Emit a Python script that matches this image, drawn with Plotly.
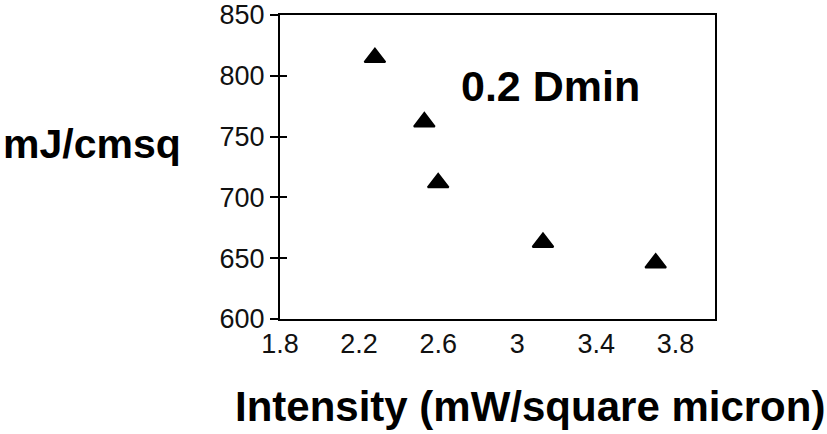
import plotly.graph_objects as go

# Data
intensity = [2.28, 2.53, 2.60, 3.13, 3.70]
energy = [815, 762, 712, 663, 646]

x_ticks = [1.8, 2.2, 2.6, 3.0, 3.4, 3.8]
x_tick_text = ["1.8", "2.2", "2.6", "3", "3.4", "3.8"]
y_ticks = [600, 650, 700, 750, 800, 850]

label_text = "0.2 Dmin"
y_title = "mJ/cmsq"
x_title = "Intensity (mW/square micron)"

FONT = "Liberation Sans, Arial, Helvetica, sans-serif"

fig = go.Figure()
fig.add_trace(go.Scatter(
    x=intensity, y=energy, mode="markers",
    marker=dict(symbol="triangle-up", size=18, color="black",
                line=dict(color="black", width=2)),
    showlegend=False,
))
# invisible trace for the overlay axis (inside ticks)
fig.add_trace(go.Scatter(x=[intensity[0]], y=[energy[0]], yaxis="y2",
                         mode="markers", marker=dict(opacity=0),
                         showlegend=False, hoverinfo="skip"))

fig.update_layout(
    width=827, height=434,
    margin=dict(l=280, r=112, t=15, b=115, autoexpand=False),
    paper_bgcolor="white", plot_bgcolor="white",
    font=dict(family=FONT, color="#111"),
    xaxis=dict(range=[1.8, 4.0], tickvals=x_ticks, ticktext=x_tick_text,
               ticks="",
               showgrid=False, zeroline=False, automargin=False,
               showline=True, linecolor="black", linewidth=2, mirror=True,
               tickfont=dict(size=27, family=FONT, color="#111")),
    yaxis=dict(range=[600, 850], tickvals=y_ticks,
               ticks="outside", ticklen=8, tickwidth=1.5, tickcolor="black",
               showgrid=False, zeroline=False, automargin=False,
               showline=True, linecolor="black", linewidth=2, mirror=True,
               tickfont=dict(size=27, family=FONT, color="#111")),
    yaxis2=dict(range=[600, 850], tickvals=y_ticks, overlaying="y",
                side="left", ticks="inside", ticklen=7, tickwidth=1.5,
                tickcolor="black", showticklabels=False, showgrid=False,
                zeroline=False, showline=False, automargin=False),
)

fig.add_annotation(x=3.17, y=792, xref="x", yref="y",
                   text="<b>%s</b>" % label_text,
                   showarrow=False, xanchor="center", yanchor="middle",
                   font=dict(size=43, family=FONT, color="black"))
fig.add_annotation(x=-0.223, y=0.575, xref="paper", yref="paper",
                   text="<b>%s</b>" % y_title, showarrow=False,
                   xanchor="right", yanchor="middle",
                   font=dict(size=41, family=FONT, color="black"))
fig.add_annotation(x=0.575, y=-0.205, xref="paper", yref="paper",
                   text="<b>%s</b>" % x_title, showarrow=False,
                   xanchor="center", yanchor="top",
                   font=dict(size=42, family=FONT, color="black"))

fig.write_html("out.html")
